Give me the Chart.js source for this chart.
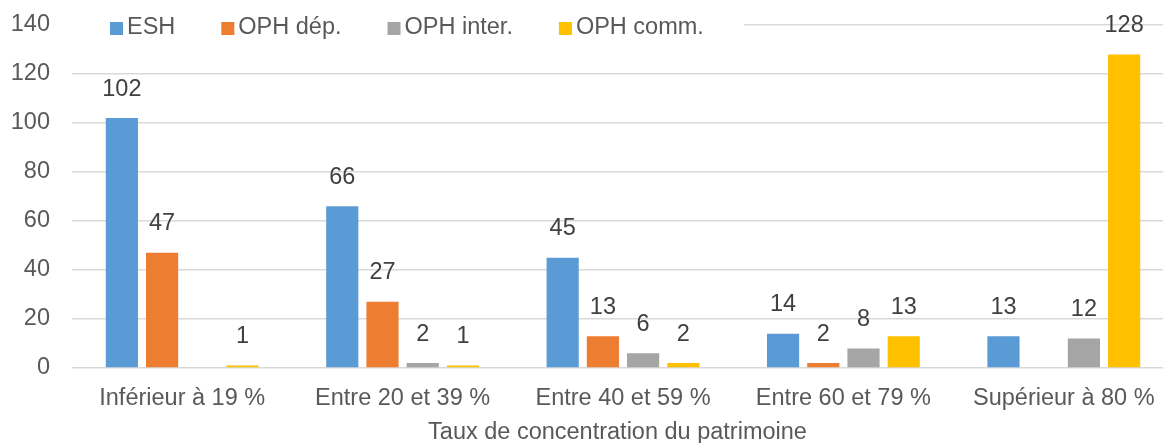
<!DOCTYPE html>
<html>
<head>
<meta charset="utf-8">
<script src="https://cdn.jsdelivr.net/npm/chart.js"></script>
<style>
  html, body { margin: 0; padding: 0; background: #ffffff; overflow: hidden; }
  #wrap { width: 1163px; height: 443px; overflow: hidden; }
</style>
</head>
<body>
<div id="wrap"><canvas id="concentrationChart" width="1175" height="443"></canvas></div>
<script>
// Values
const categories = ['Inférieur à 19 %', 'Entre 20 et 39 %', 'Entre 40 et 59 %', 'Entre 60 et 79 %', 'Supérieur à 80 %'];
const seriesNames = ['ESH', 'OPH dép.', 'OPH inter.', 'OPH comm.'];
const eshValues = [102, 66, 45, 14, 13];
const ophDepValues = [47, 27, 13, 2, 0];
const ophInterValues = [0, 2, 6, 8, 12];
const ophCommValues = [1, 1, 2, 13, 128];
const yTicks = [0, 20, 40, 60, 80, 100, 120, 140];
const xTitle = 'Taux de concentration du patrimoine';

const seriesColors = ['#5B9BD5', '#ED7D31', '#A5A5A5', '#FFC000'];
const FONT = "'Liberation Sans', Arial, sans-serif";

// Value labels above each bar (zero values are not shown)
const barLabels = {
    id: 'barLabels',
    afterDatasetsDraw(chart) {
        const ctx = chart.ctx;
        ctx.save();
        ctx.font = '23.5px ' + FONT;
        ctx.fillStyle = '#404040';
        ctx.textAlign = 'center';
        ctx.textBaseline = 'middle';
        chart.data.datasets.forEach((ds, i) => {
            const meta = chart.getDatasetMeta(i);
            meta.data.forEach((bar, j) => {
                const v = ds.data[j];
                if (!v) return;
                ctx.fillText(String(v), bar.x, bar.y - 29);
            });
        });
        ctx.restore();
    }
};

// Excel-like legend over the top gridline, plus the axis title
// (the plot area runs past the right edge of the picture, so the
// title is centred on the visible part)
const decorations = {
    id: 'decorations',
    afterDraw(chart) {
        const ctx = chart.ctx;
        const area = chart.chartArea;
        const visibleWidth = document.getElementById('wrap').clientWidth;
        ctx.save();
        ctx.font = '23.5px ' + FONT;
        ctx.textBaseline = 'middle';
        let x = 110;
        const y = 28;
        const items = chart.data.datasets.map(ds => ({ label: ds.label, color: ds.backgroundColor }));
        let endX = x;
        items.forEach(it => {
            endX += 13 + 4 + ctx.measureText(it.label).width + 46;
        });
        ctx.fillStyle = '#ffffff';
        ctx.fillRect(area.left, y - 14, endX - 46 + 40 - area.left, 28);
        items.forEach(it => {
            ctx.fillStyle = it.color;
            ctx.fillRect(x, y - 6, 13, 13);
            ctx.fillStyle = '#595959';
            ctx.fillText(it.label, x + 17, y);
            x += 17 + ctx.measureText(it.label).width + 46;
        });

        ctx.textAlign = 'center';
        ctx.fillText(xTitle, (area.left + visibleWidth) / 2, chart.height - 10);
        ctx.restore();
    }
};

const valueSets = [eshValues, ophDepValues, ophInterValues, ophCommValues];

const config = {
    type: 'bar',
    data: {
        labels: categories,
        datasets: seriesNames.map((name, i) => ({
            label: name,
            data: valueSets[i],
            backgroundColor: seriesColors[i],
            borderWidth: 0,
            categoryPercentage: 0.73,
            barPercentage: 0.8
        }))
    },
    options: {
        responsive: false,
        animation: false,
        layout: {
            padding: { top: 25, right: 1, bottom: 0, left: 0 }
        },
        plugins: {
            legend: { display: false },
            tooltip: { enabled: false }
        },
        scales: {
            x: {
                grid: { display: false, drawTicks: false },
                border: { display: false },
                ticks: {
                    color: '#595959',
                    font: { family: FONT, size: 23.5 },
                    padding: 16,
                    maxRotation: 0
                },
                afterFit(scale) {
                    scale.height = 75;
                    scale.paddingLeft = 0;
                    scale.paddingRight = 0;
                }
            },
            y: {
                min: 0,
                max: 140,
                afterBuildTicks(scale) {
                    scale.ticks = yTicks.map(v => ({ value: v }));
                },
                grid: { color: '#d9d9d9', lineWidth: 1.5, drawTicks: false },
                border: { display: false },
                ticks: {
                    color: '#595959',
                    font: { family: FONT, size: 23.5 },
                    padding: 22
                },
                afterFit(scale) {
                    scale.width = 72;
                    scale.paddingTop = 0;
                    scale.paddingBottom = 0;
                }
            }
        }
    },
    plugins: [barLabels, decorations]
};

const chart = new Chart(document.getElementById('concentrationChart'), config);
</script>
</body>
</html>
